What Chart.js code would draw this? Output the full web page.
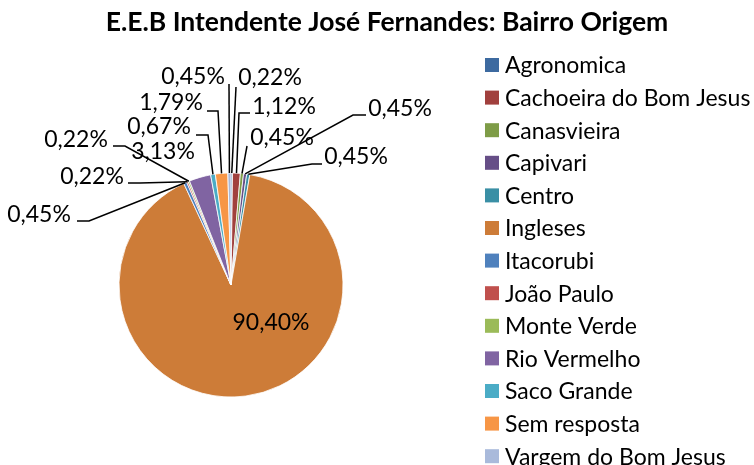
<!DOCTYPE html>
<html>
<head>
<meta charset="utf-8">
<script src="https://cdn.jsdelivr.net/npm/chart.js@4/dist/chart.umd.min.js"></script>
<style>
  html, body { margin: 0; padding: 0; background: #fff; }
  #wrap { width: 754px; height: 465px; position: relative; }
</style>
</head>
<body>
<div id="wrap"><canvas id="bairroChart"></canvas></div>
<script>
const titulo = 'E.E.B Intendente José Fernandes: Bairro Origem';

const bairros = [
    'Agronomica', 'Cachoeira do Bom Jesus', 'Canasvieira', 'Capivari', 'Centro',
    'Ingleses', 'Itacorubi', 'João Paulo', 'Monte Verde', 'Rio Vermelho',
    'Saco Grande', 'Sem resposta', 'Vargem do Bom Jesus'
];
const percentuais = [0.22, 1.12, 0.45, 0.45, 0.45, 90.40, 0.45, 0.22, 0.22, 3.13, 0.67, 1.79, 0.45];
const cores = [
    '#3D6AA0', '#A1403D', '#7E9C47', '#664E87', '#3A8FA5', '#CD7C38',
    '#4F81BD', '#C0504D', '#9BBB59', '#8064A2', '#4BACC6', '#F79646', '#A9BADB'
];

// where each percentage label sits, plus the bend points of its leader line
// (the line then ends on the slice edge, taken from the arc itself)
const rotulos = [
    { at: [270, 78],  path: [[236, 87]] },
    { at: [284, 107], path: [[250, 113], [239, 113]] },
    { at: [282, 138], path: [[247, 146]] },
    { at: [400, 109], path: [[366, 115], [353, 115]] },
    { at: [356, 157], path: [[322, 164], [312, 164]] },
    { at: [271, 323], path: null },
    { at: [39, 215],  path: [[77, 221], [89, 221]] },
    { at: [92, 177],  path: [[128, 183], [140, 183]] },
    { at: [76, 140],  path: [[113, 146], [125, 146]] },
    { at: [163, 152], path: null },
    { at: [159, 127], path: [[196, 135], [208, 135]] },
    { at: [171, 103], path: [[207, 111], [218, 111]] },
    { at: [193, 77],  path: [[229, 84]] }
];

const fonte = 'Lato, "Open Sans", sans-serif';

function fmt(v) {
    return v.toFixed(2).replace('.', ',') + '%';
}

const extras = {
    id: 'extras',
    afterDatasetsDraw(chart) {
        const ctx = chart.ctx;
        const arcs = chart.getDatasetMeta(0).data;

        ctx.save();
        ctx.strokeStyle = '#000';
        ctx.lineWidth = 1.5;
        rotulos.forEach((r, i) => {
            if (!r.path) return;
            const a = arcs[i];
            const mid = (a.startAngle + a.endAngle) / 2;
            const ex = a.x + Math.cos(mid) * a.outerRadius;
            const ey = a.y + Math.sin(mid) * a.outerRadius;
            ctx.beginPath();
            ctx.moveTo(r.path[0][0], r.path[0][1]);
            for (let k = 1; k < r.path.length; k++) ctx.lineTo(r.path[k][0], r.path[k][1]);
            ctx.lineTo(ex, ey);
            ctx.stroke();
        });

        ctx.fillStyle = '#000';
        ctx.font = '23px ' + fonte;
        ctx.textAlign = 'center';
        ctx.textBaseline = 'middle';
        rotulos.forEach((r, i) => {
            ctx.fillText(fmt(percentuais[i]), r.at[0], r.at[1]);
        });

        // title
        ctx.font = 'bold 26.5px ' + fonte;
        ctx.fillText(titulo, 387, 22);

        // legend
        ctx.textAlign = 'left';
        ctx.font = '23px ' + fonte;
        bairros.forEach((b, i) => {
            const y = 65 + i * 32.6;
            ctx.fillStyle = cores[i];
            ctx.fillRect(485, y - 7, 14, 14);
            ctx.fillStyle = '#000';
            ctx.fillText(b, 505, y + 1);
        });
        ctx.restore();
    }
};

new Chart(document.getElementById('bairroChart'), {
    type: 'pie',
    data: {
        labels: bairros,
        datasets: [{
            data: percentuais,
            backgroundColor: cores,
            borderColor: '#fff',
            borderWidth: 0.8,
            hoverOffset: 0
        }]
    },
    options: {
        responsive: true,
        maintainAspectRatio: false,
        animation: false,
        radius: 112,
        layout: { padding: { left: 119, right: 411, top: 173, bottom: 68 } },
        plugins: {
            legend: { display: false },
            title: { display: false },
            tooltip: { enabled: false }
        }
    },
    plugins: [extras]
});
</script>
</body>
</html>
